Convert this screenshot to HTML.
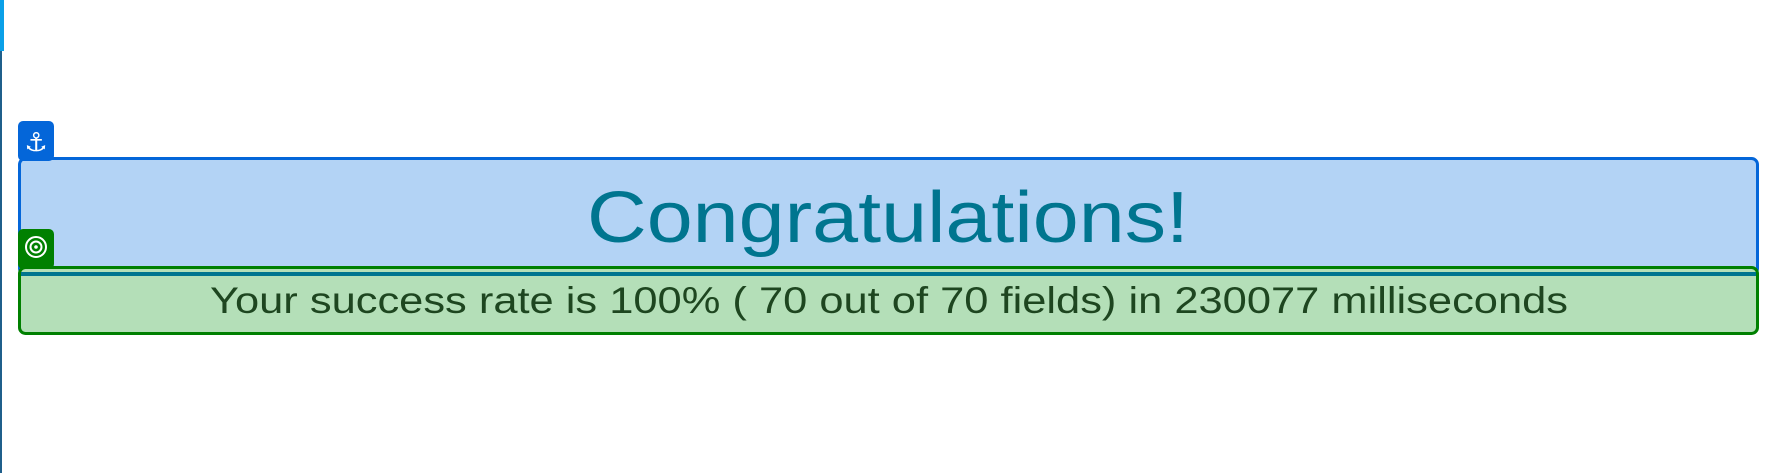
<!DOCTYPE html>
<html><head><meta charset="utf-8"><style>
html,body{margin:0;padding:0;background:#fff;width:1778px;height:473px;overflow:hidden}
</style></head><body>
<svg width="1778" height="473" xmlns="http://www.w3.org/2000/svg">
  <rect x="0" y="0" width="2" height="473" fill="#1f5f8b"/>
  <rect x="0" y="0" width="4" height="51" fill="#0aa0e8"/>
  <rect x="19.5" y="158.5" width="1738" height="116" rx="6" fill="#b3d3f5" stroke="#0466d9" stroke-width="3"/>
  <rect x="18" y="121" width="36" height="40" rx="5" fill="#0466d9"/>
  <text x="36" y="151" font-size="26" fill="#fff" text-anchor="middle" font-family="DejaVu Sans, sans-serif">⚓</text>
  <text x="888" y="242" font-size="72" fill="#00758f" text-anchor="middle" textLength="602" lengthAdjust="spacingAndGlyphs" font-family="Liberation Sans, sans-serif">Congratulations!</text>
  <rect x="19.5" y="267.5" width="1738" height="66" rx="6" fill="#b4dfb8" stroke="#008000" stroke-width="3"/>
  <rect x="21" y="272" width="1735" height="4" fill="#00758f"/>
  <rect x="18" y="229" width="36" height="40" rx="5" fill="#008000"/>
  <circle cx="36" cy="247" r="10" fill="none" stroke="#fff" stroke-width="2"/>
  <circle cx="36" cy="247" r="5.5" fill="none" stroke="#fff" stroke-width="2"/>
  <circle cx="36" cy="247" r="1.8" fill="#fff"/>
  <text x="889" y="313" font-size="37" fill="#1e4620" text-anchor="middle" textLength="1358" lengthAdjust="spacingAndGlyphs" font-family="Liberation Sans, sans-serif">Your success rate is 100% ( 70 out of 70 fields) in 230077 milliseconds</text>
</svg>
</body></html>
